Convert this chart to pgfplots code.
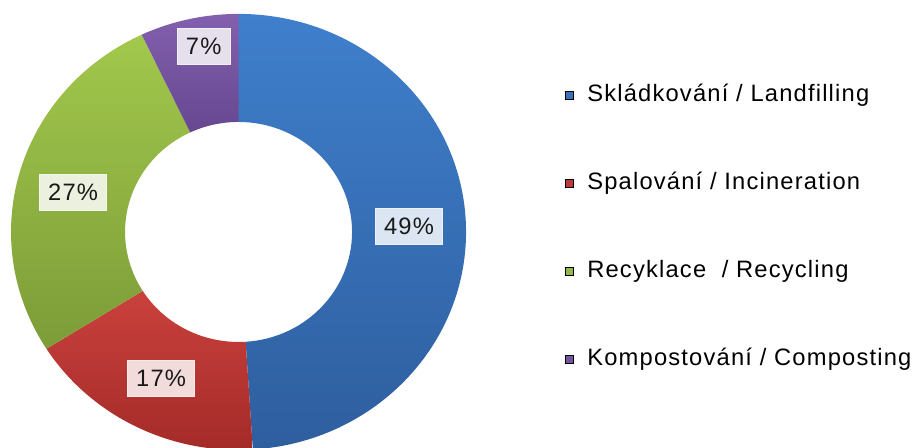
\documentclass[border=0pt]{standalone}
\usepackage{pgfplots}
\pgfplotsset{compat=1.18}
\usepackage{pgfplotstable}
\usepackage{fontspec}
\setmainfont{Liberation Sans}[LetterSpace=5]

\definecolor{blueT}{HTML}{3F7FCC}
\definecolor{blueB}{HTML}{2E5E9E}
\definecolor{redT}{HTML}{CA413D}
\definecolor{redB}{HTML}{A32A28}
\definecolor{greenT}{HTML}{A2C84C}
\definecolor{greenB}{HTML}{7C9C38}
\definecolor{purpT}{HTML}{8360AE}
\definecolor{purpB}{HTML}{664790}
\definecolor{blueL}{HTML}{DCE6F2}
\definecolor{redL}{HTML}{F2DCDB}
\definecolor{greenL}{HTML}{EBF1DE}
\definecolor{purpL}{HTML}{E6E0EC}
\definecolor{blueM}{HTML}{3A72BC}
\definecolor{redM}{HTML}{C0393A}
\definecolor{greenM}{HTML}{94B847}
\definecolor{purpM}{HTML}{7456A0}

% share in percent; lr = label place between inner (0) and outer (1) edge,
% da = small angle nudge of the label
\pgfplotstableread{
name value lr da
Landfilling 49 0.5 0
Incineration 17 0.5 0
Recycling 27 0.5 2.1
Composting 7 0.73 -2.4
}\wastetable

% geometry in pixel units (1 unit = 0.02cm)
\def\cx{238.5}\def\cy{215}
\def\Rx{227.5}\def\Ry{218}
\def\rx{113.5}\def\ry{110}
\def\cumang{90}

\newcommand\slicecalc[2]{%
  \pgfplotstablegetelem{#1}{value}\of\wastetable
  \pgfmathsetmacro\tmpv{\pgfplotsretval}%
  \pgfplotstablegetelem{#1}{lr}\of\wastetable
  \pgfmathsetmacro\tmpl{\pgfplotsretval}%
  \pgfplotstablegetelem{#1}{da}\of\wastetable
  \pgfmathsetmacro\tmpd{\pgfplotsretval}%
  \expandafter\xdef\csname s#2\endcsname{\cumang}%
  \pgfmathsetmacro\tmpa{\cumang}%
  \pgfmathsetmacro\cumang{\cumang-3.6*\tmpv}%
  \expandafter\xdef\csname e#2\endcsname{\cumang}%
  \pgfmathsetmacro\tmpm{(\tmpa+\cumang)/2+\tmpd}%
  \pgfmathsetmacro\tmpx{\cx+(\rx+\tmpl*(\Rx-\rx))*cos(\tmpm)}%
  \pgfmathsetmacro\tmpy{\cy+(\ry+\tmpl*(\Ry-\ry))*sin(\tmpm)}%
  \expandafter\xdef\csname lx#2\endcsname{\tmpx}%
  \expandafter\xdef\csname ly#2\endcsname{\tmpy}%
  \pgfmathtruncatemacro\tmpi{\tmpv}%
  \expandafter\xdef\csname v#2\endcsname{\tmpi}%
}

\newcommand\donutslice[3]{%
  \shade[top color=#2, bottom color=#3]
    (axis cs:{\cx+\Rx*cos(\csname s#1\endcsname)},{\cy+\Ry*sin(\csname s#1\endcsname)})
    arc[start angle=\csname s#1\endcsname, end angle=\csname e#1\endcsname,
        x radius=4.55cm, y radius=4.36cm]
    -- (axis cs:{\cx+\rx*cos(\csname e#1\endcsname)},{\cy+\ry*sin(\csname e#1\endcsname)})
    arc[start angle=\csname e#1\endcsname, end angle=\csname s#1\endcsname,
        x radius=2.27cm, y radius=2.2cm]
    -- cycle;
}

\newcommand\slicelabel[2]{%
  \node[fill=#2, draw=white!50!#2, line width=0.5pt, text=black!90,
        inner xsep=0.17cm, inner ysep=0.2cm, text height=0.32cm, text depth=0cm,
        font=\fontsize{13.5}{15}\selectfont]
    at (axis cs:{\csname lx#1\endcsname},{\csname ly#1\endcsname})
    {\csname v#1\endcsname\%};
}

\begin{document}
\slicecalc{0}{A}\slicecalc{1}{B}\slicecalc{2}{C}\slicecalc{3}{D}%
\begin{tikzpicture}
\begin{axis}[
    at={(0,0)}, anchor=south west,
    x=0.02cm, y=0.02cm,
    xmin=0, xmax=921, ymin=0, ymax=447,
    hide axis,
    clip=true,
    legend image code/.code={\fill[#1] (0cm,-0.08cm) rectangle (0.16cm,0.08cm);},
    legend cell align=left,
    legend style={
        at={(axis cs:565,362)}, anchor=north west,
        draw=none, fill=none, inner sep=0pt, outer sep=0pt,
        row sep=1.35cm,
        font=\fontsize{13.5}{15}\selectfont,
        nodes={inner sep=0pt, text height=0.33cm, text depth=0.08cm},
        /tikz/every odd column/.append style={column sep=0.27cm},
    },
]
\donutslice{A}{blueT}{blueB}
\donutslice{B}{redT}{redB}
\donutslice{C}{greenT}{greenB}
\donutslice{D}{purpT}{purpB}

\slicelabel{A}{blueL}
\slicelabel{B}{redL}
\slicelabel{C}{greenL}
\slicelabel{D}{purpL}

\addlegendimage{fill=blueM}
\addlegendentry{Skládkování / Landfilling}
\addlegendimage{fill=redM}
\addlegendentry{Spalování / Incineration}
\addlegendimage{fill=greenM}
\addlegendentry{Recyklace\ \ / Recycling}
\addlegendimage{fill=purpM}
\addlegendentry{Kompostování / Composting}
\end{axis}
\pgfresetboundingbox
\path (0,0) rectangle (18.42cm,8.94cm);
\end{tikzpicture}
\end{document}
